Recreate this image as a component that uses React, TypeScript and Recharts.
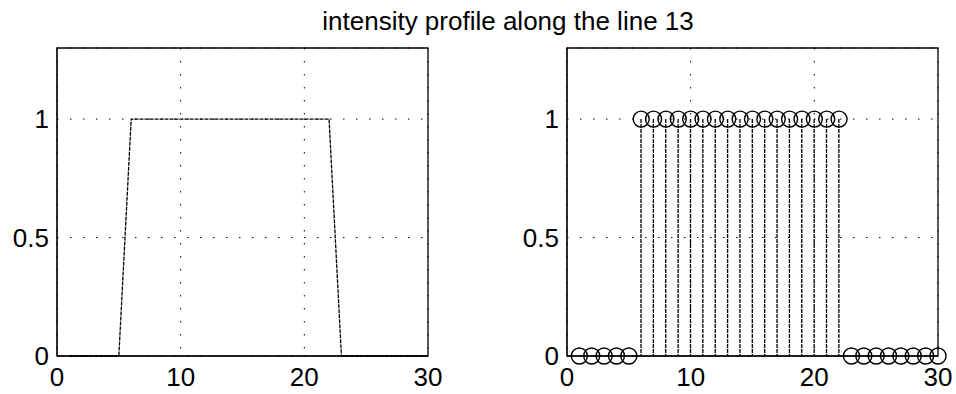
import { ComposedChart, LineChart, Line, Bar, XAxis, YAxis, CartesianGrid, ReferenceArea } from 'recharts'

// pixel index along the line and its intensity
const positions = Array.from({ length: 30 }, (_, i) => i + 1)
const intensity = [
  0, 0, 0, 0, 0,
  1, 1, 1, 1, 1, 1, 1, 1, 1, 1, 1, 1, 1, 1, 1, 1, 1,
  0, 0, 0, 0, 0, 0, 0, 0,
]
const xTicks = [0, 10, 20, 30]
const yTicks = [0, 0.5, 1]
const title = 'intensity profile along the line 13'

const rows = positions.map((x, i) => ({ x, v: intensity[i] }))

const font = '"Liberation Sans", Arial, sans-serif'
const tickStyle = { fontSize: 26, fill: '#000', fontFamily: font }
const gridDash = '1.5 11.5'

function Stem(props: any) {
  const { x, y, width, height } = props
  if (!height) return null
  const cx = x + width / 2
  return <line x1={cx} x2={cx} y1={y} y2={y + height} stroke="#000" strokeWidth={1.3} strokeDasharray="4 1" />
}

function axes(yWidth: number) {
  return [
    <XAxis
      key="x"
      dataKey="x"
      type="number"
      domain={[0, 30]}
      ticks={xTicks}
      tick={tickStyle}
      tickLine={false}
      tickMargin={6}
      axisLine={{ stroke: '#000' }}
      height={30}
      interval={0}
    />,
    <YAxis
      key="y"
      type="number"
      domain={[0, 1.3]}
      ticks={yTicks}
      tick={tickStyle}
      tickLine={false}
      axisLine={{ stroke: '#000' }}
      width={yWidth}
      interval={0}
      tickFormatter={(v: number) => String(v)}
    />,
    <CartesianGrid key="g" stroke="#000" strokeDasharray={gridDash} />,
    // box around the plot
    <ReferenceArea key="box" x1={0} x2={30} y1={0} y2={1.3} fill="none" stroke="#000" strokeWidth={1.3} />,
  ]
}

export default function App() {
  return (
    <div style={{ position: 'absolute', left: 0, top: 0, width: 956, height: 394, background: '#fff', fontFamily: font }}>
      <div
        style={{
          position: 'absolute',
          left: 508,
          top: 6,
          transform: 'translateX(-50%)',
          fontSize: 26,
          lineHeight: '30px',
          whiteSpace: 'nowrap',
          color: '#000',
        }}
      >
        {title}
      </div>
      <div style={{ position: 'absolute', left: 0, top: 0 }}>
        <LineChart width={470} height={394} data={rows} margin={{ top: 48, right: 42, left: 0, bottom: 8 }}>
          {axes(57)}
          <Line dataKey="v" type="linear" stroke="#000" strokeWidth={1.3} strokeDasharray="4 1" dot={false} isAnimationActive={false} />
        </LineChart>
      </div>
      <div style={{ position: 'absolute', left: 480, top: 0 }}>
        <ComposedChart width={476} height={394} data={rows} margin={{ top: 48, right: 18, left: 0, bottom: 8 }}>
          {axes(87)}
          <Bar dataKey="v" barSize={2} shape={<Stem />} isAnimationActive={false} />
          <Line
            dataKey="v"
            type="linear"
            stroke="none"
            dot={{ r: 8, stroke: '#000', strokeWidth: 1.4, fill: 'none' }}
            activeDot={false}
            isAnimationActive={false}
          />
        </ComposedChart>
      </div>
    </div>
  )
}
